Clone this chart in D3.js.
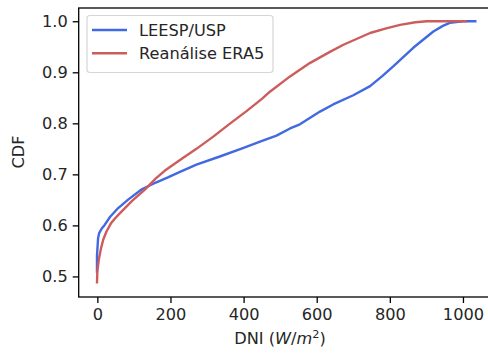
<!DOCTYPE html>
<html>
<head>
<meta charset="utf-8">
<script src="https://cdn.jsdelivr.net/npm/d3@7"></script>
<style>
  html, body { margin: 0; padding: 0; background: #fff; }
  svg { display: block; font-family: "DejaVu Sans", sans-serif; }
</style>
</head>
<body>
<svg id="chart" width="488" height="358"></svg>
<script>
// ---- data ----
const seriesNames = ["LEESP/USP", "Reanálise ERA5"];
const seriesColors = ["#4169E1", "#CD5C5C"];

const leespDNI = [-1, -1, 2, 5, 12, 20, 35, 57, 85, 120, 160, 193, 226, 271, 335, 400, 445, 490, 527, 554, 609, 645, 700, 746, 780, 810, 864, 919, 945, 964, 1000, 1037];
const leespCDF = [0.507, 0.54, 0.575, 0.585, 0.594, 0.601, 0.617, 0.634, 0.651, 0.670, 0.684, 0.694, 0.705, 0.719, 0.735, 0.752, 0.764, 0.776, 0.790, 0.798, 0.823, 0.837, 0.855, 0.873, 0.893, 0.912, 0.948, 0.980, 0.991, 0.997, 1.0, 1.0];

const era5DNI = [-1, 0, 4, 10, 16, 25, 38, 50, 66, 95, 130, 160, 184, 226, 271, 317, 360, 408, 450, 472, 527, 581, 636, 673, 746, 790, 828, 870, 901, 950, 1010];
const era5CDF = [0.486, 0.51, 0.533, 0.555, 0.572, 0.588, 0.605, 0.615, 0.627, 0.648, 0.670, 0.692, 0.707, 0.728, 0.750, 0.774, 0.798, 0.824, 0.848, 0.862, 0.892, 0.918, 0.940, 0.954, 0.977, 0.986, 0.993, 0.998, 1.0, 1.0, 1.0];

const xTicks = [0, 200, 400, 600, 800, 1000];
const yTicks = [0.5, 0.6, 0.7, 0.8, 0.9, 1.0];
const yLabel = "CDF";

// ---- layout ----
const svg = d3.select("#chart");
const L = 78.7, R = 496.6, T = 8, B = 297;
const fs = 16.2;

const x = d3.scaleLinear().domain([-51, 1092]).range([L, R]);
const y = d3.scaleLinear().domain([0.4597, 1.026]).range([B, T]);

// axes
const xAxis = d3.axisBottom(x).tickValues(xTicks).tickFormat(d3.format("d")).tickSize(6).tickPadding(5);
const yAxis = d3.axisLeft(y).tickValues(yTicks).tickFormat(d3.format(".1f")).tickSize(6).tickPadding(5);

const gx = svg.append("g").attr("transform", `translate(0,${B})`).call(xAxis);
const gy = svg.append("g").attr("transform", `translate(${L},0)`).call(yAxis);
[gx, gy].forEach(g => {
  g.select(".domain").remove();
  g.selectAll("line").attr("stroke", "#000").attr("stroke-width", 1.3);
  g.selectAll("text").attr("fill", "#262626").style("font-size", fs + "px").style("font-family", "DejaVu Sans");
});

// lines
const line = d3.line().x(d => x(d[0])).y(d => y(d[1])).curve(d3.curveMonotoneX);
const datasets = [
  d3.zip(leespDNI, leespCDF),
  d3.zip(era5DNI, era5CDF)
];
svg.append("clipPath").attr("id", "clip").append("rect")
  .attr("x", L).attr("y", T).attr("width", R - L).attr("height", B - T);
datasets.forEach((ds, i) => {
  svg.append("path").datum(ds)
    .attr("fill", "none")
    .attr("stroke", seriesColors[i])
    .attr("stroke-width", 2.4)
    .attr("stroke-linejoin", "round")
    .attr("clip-path", "url(#clip)")
    .attr("d", d3.line().x(d => x(d[0])).y(d => y(d[1])));
});

// spines
svg.append("rect").attr("x", L).attr("y", T).attr("width", R - L).attr("height", B - T)
  .attr("fill", "none").attr("stroke", "#000").attr("stroke-width", 1.3);

// legend
const lg = svg.append("g");
lg.append("rect").attr("x", 87).attr("y", 15.5).attr("width", 186).attr("height", 57)
  .attr("rx", 3).attr("fill", "rgba(255,255,255,0.8)").attr("stroke", "#d6d6d6").attr("stroke-width", 1.2);
seriesNames.forEach((n, i) => {
  const yy = 30 + i * 23.3;
  lg.append("line").attr("x1", 92).attr("x2", 127).attr("y1", yy).attr("y2", yy)
    .attr("stroke", seriesColors[i]).attr("stroke-width", 2.4);
  lg.append("text").attr("x", 139).attr("y", yy + 5.8).text(n)
    .attr("fill", "#262626").style("font-size", fs + "px");
});

// axis labels
const xl = svg.append("text").attr("x", 280).attr("y", 344).attr("text-anchor", "middle")
  .attr("fill", "#262626").style("font-size", fs + "px");
xl.append("tspan").text("DNI (");
xl.append("tspan").attr("font-style", "italic").text("W");
xl.append("tspan").text("/");
xl.append("tspan").attr("font-style", "italic").text("m");
xl.append("tspan").attr("dy", -6).style("font-size", (fs * 0.7) + "px").text("2");
xl.append("tspan").attr("dy", 6).text(")");

svg.append("text").attr("transform", "translate(24,152) rotate(-90)")
  .attr("text-anchor", "middle").attr("fill", "#262626").style("font-size", fs + "px").text(yLabel);
</script>
</body>
</html>
